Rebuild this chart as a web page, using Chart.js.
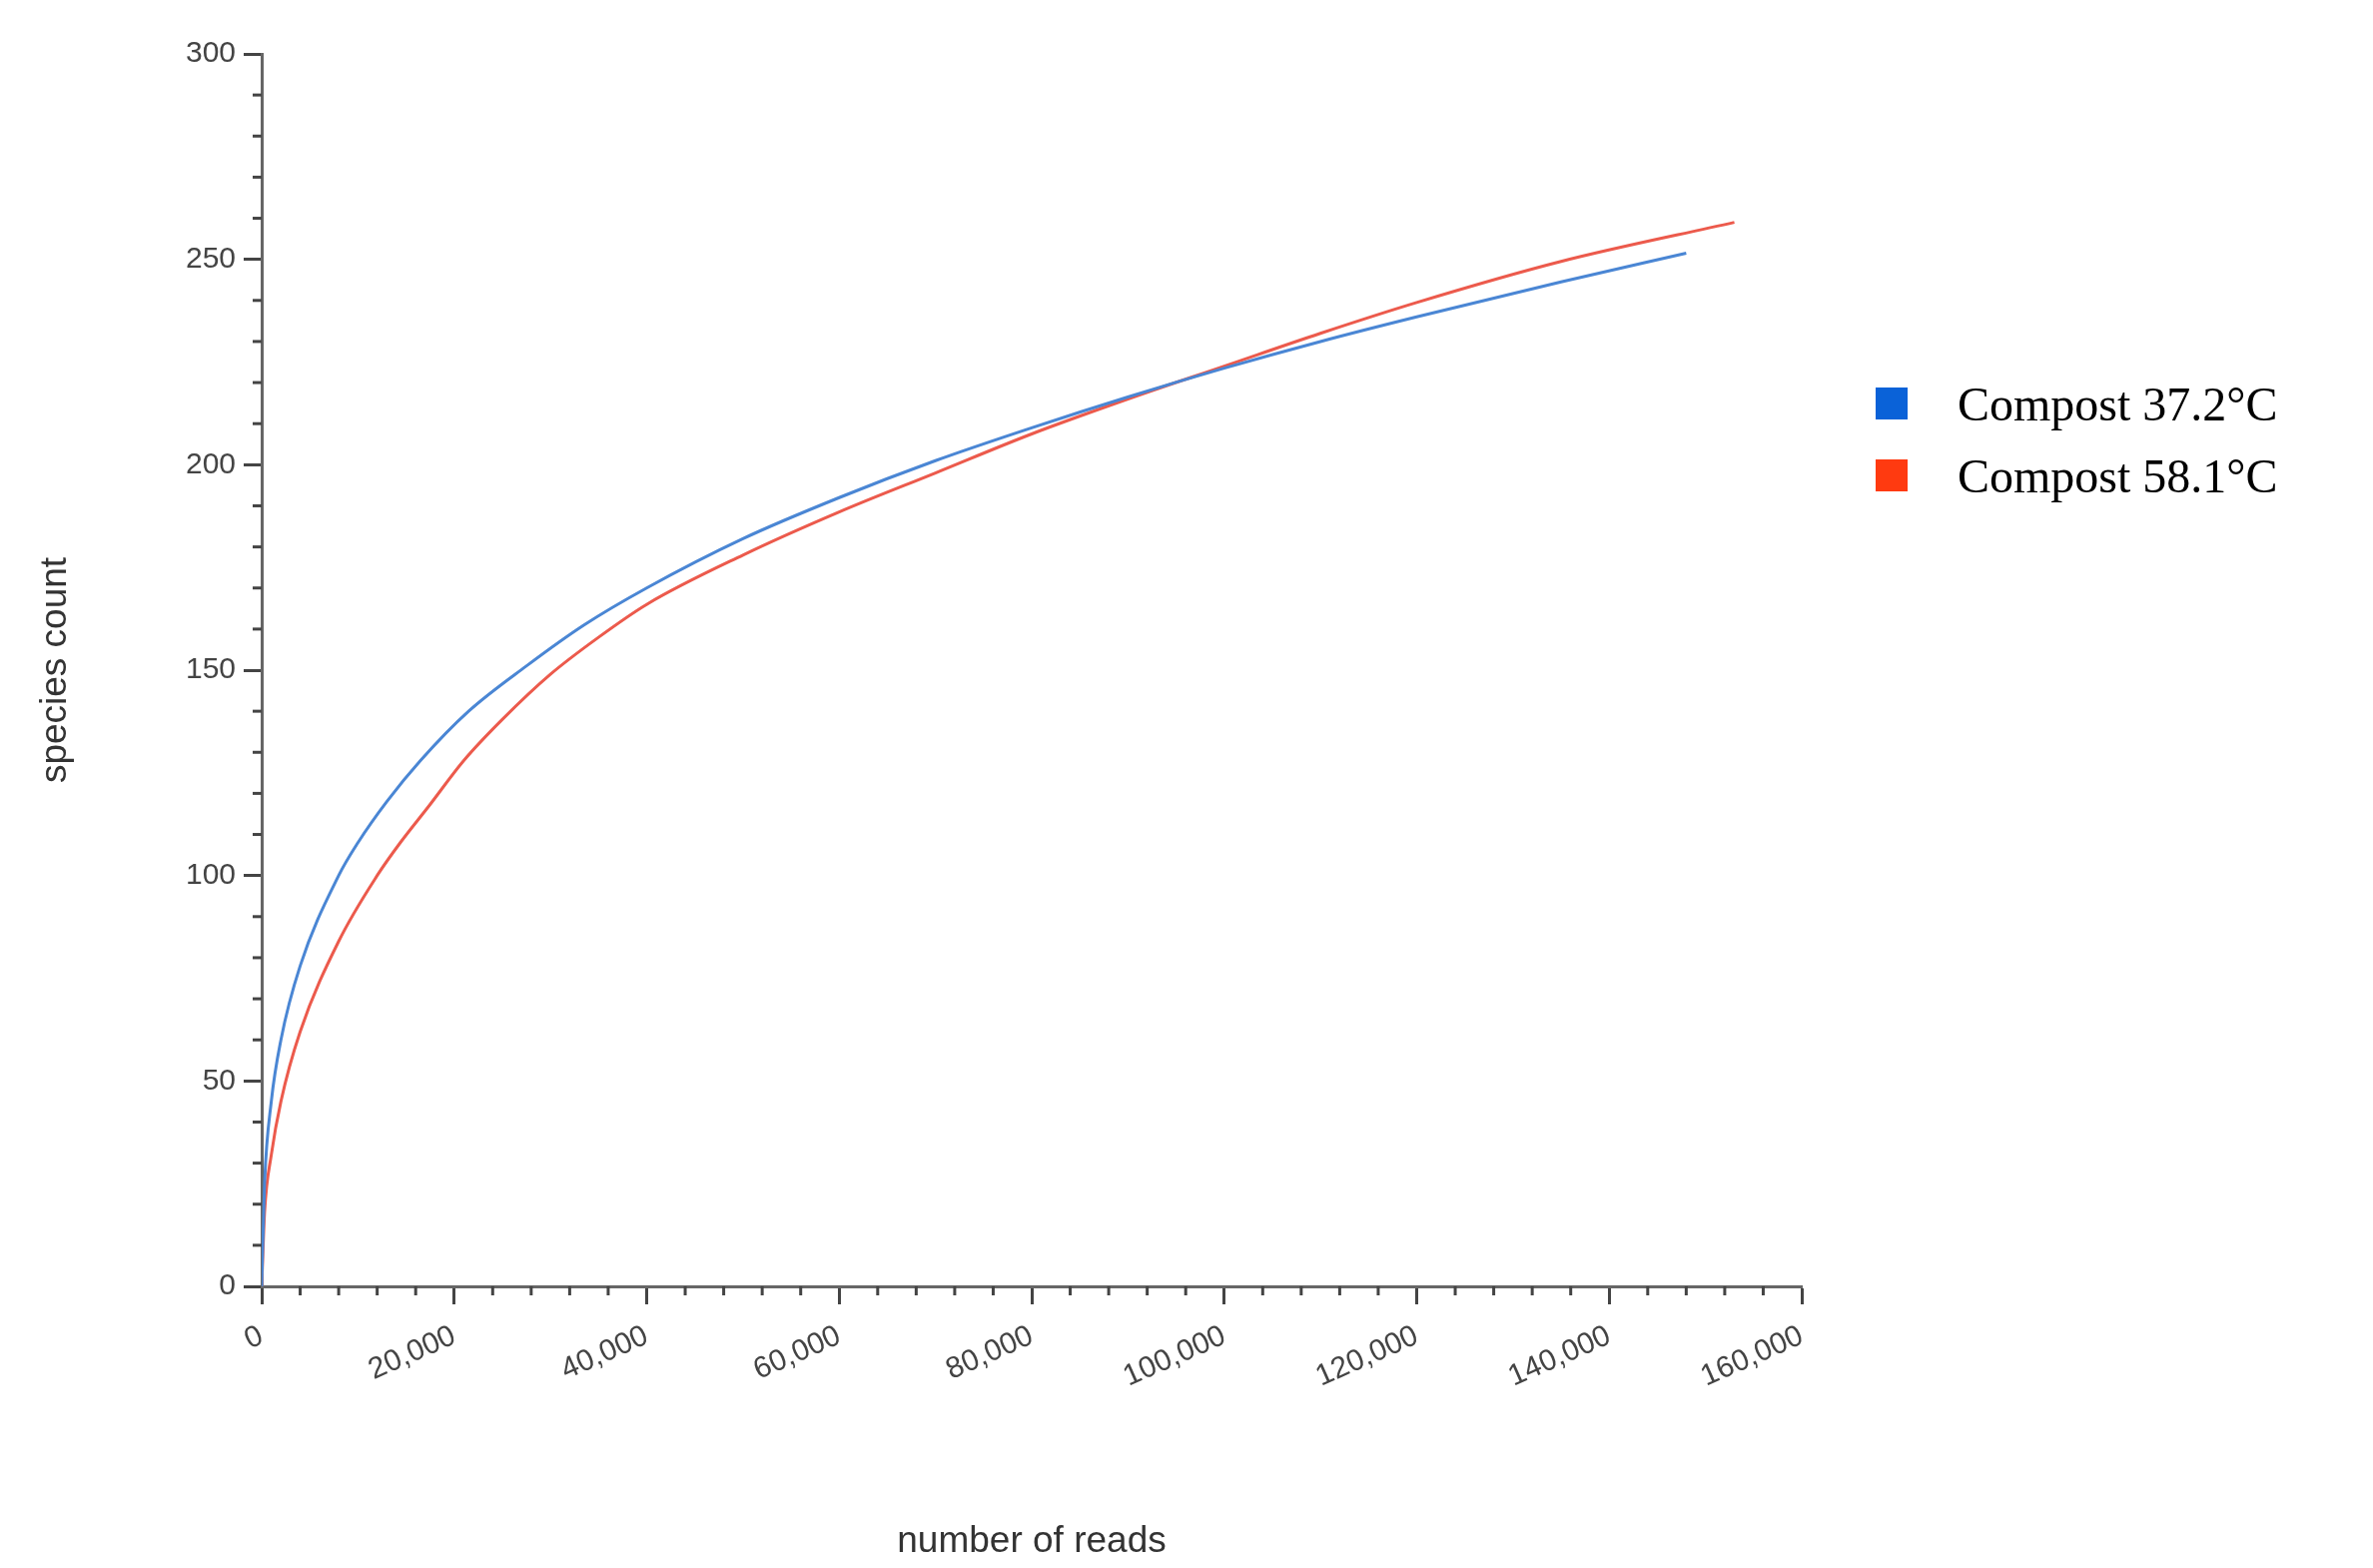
<!DOCTYPE html>
<html><head><meta charset="utf-8">
<script src="https://cdn.jsdelivr.net/npm/chart.js@4"></script>
<style>
html,body{margin:0;padding:0;background:#fff;}
#wrap{position:relative;width:2376px;height:1570px;}
#legend{position:absolute;left:1878px;top:368px;font-family:"Liberation Serif",serif;font-size:48px;color:#000;}
#legend div{display:flex;align-items:center;height:72px;}
#legend span.b{display:inline-block;width:32px;height:32px;margin-right:50px;}
</style></head>
<body><div id="wrap"><canvas id="c" width="2376" height="1570"></canvas>
<div id="legend"><div><span class="b" style="background:#0a62d8"></span>Compost 37.2°C</div><div><span class="b" style="background:#ff3a10"></span>Compost 58.1°C</div></div></div>
<script>
const seriesNames = ["Compost 37.2°C","Compost 58.1°C"];
const readsBlue = [0,300,1000,2000,4000,8000,10000,13000,16500,21500,27500,33500,40000,50000,60000,70000,80000,90000,100000,110000,120000,135000,148000];
const countBlue = [0,25,45,60,78,100,108,118,128,140,151,161,170,182,192,201,209,216.5,223.5,230,236,244.5,251.5];
const readsRed  = [0,300,1000,2000,4000,8000,12000,14400,17400,21000,25000,30000,35000,40000,50000,60000,70000,80000,90000,100000,110000,120000,135000,153000];
const countRed  = [0,18,32,45,62,84,100,108,117,128,138,149,158,166,178,188.5,198,207.5,216,224,232,239.5,249.5,259];
const xMajorTicks = [0,20000,40000,60000,80000,100000,120000,140000,160000];
const yMajorTicks = [0,50,100,150,200,250,300];

const toPts = (xs,ys)=>xs.map((x,i)=>({x:x,y:ys[i]}));
const minorPlugin = {
  id:'minor',
  afterDraw(chart){
    const ctx=chart.ctx, xs=chart.scales.x, ys=chart.scales.y;
    ctx.save(); ctx.strokeStyle='#444'; ctx.lineWidth=3;
    for(let v=0; v<=160000; v+=4000){ if(v%20000===0) continue;
      const px=xs.getPixelForValue(v); ctx.beginPath(); ctx.moveTo(px,xs.top); ctx.lineTo(px,xs.top+9); ctx.stroke(); }
    for(let v=0; v<=300; v+=10){ if(v%50===0) continue;
      const py=ys.getPixelForValue(v); ctx.beginPath(); ctx.moveTo(ys.right,py); ctx.lineTo(ys.right-9,py); ctx.stroke(); }
    ctx.restore();
  }
};
Chart.defaults.font.family = "'Liberation Sans', Arial, sans-serif";
new Chart(document.getElementById('c'),{
  type:'line',
  data:{datasets:[
    {label:seriesNames[0],data:toPts(readsBlue,countBlue),borderColor:'#4a86d4',borderWidth:3,pointRadius:0,cubicInterpolationMode:'monotone'},
    {label:seriesNames[1],data:toPts(readsRed,countRed),borderColor:'#ec5a4c',borderWidth:3,pointRadius:0,cubicInterpolationMode:'monotone'}
  ]},
  options:{
    responsive:false,animation:false,
    layout:{padding:{top:54,right:572,left:30,bottom:0}},
    plugins:{legend:{display:false},tooltip:{enabled:false}},
    scales:{
      x:{type:'linear',min:0,max:160000,
        afterBuildTicks(s){s.ticks=xMajorTicks.map(v=>({value:v}));},
        afterFit(s){s.height=282;},
        border:{color:'#666',width:3},
        grid:{drawOnChartArea:false,tickLength:18,tickColor:'#444',tickWidth:3},
        ticks:{color:'#444',font:{size:30},maxRotation:24,minRotation:24,padding:14,
          callback:v=>v.toLocaleString('en-US')},
        title:{display:true,text:'number of reads',color:'#333',font:{size:37},padding:{top:50}}
      },
      y:{min:0,max:300,
        afterBuildTicks(s){s.ticks=yMajorTicks.map(v=>({value:v}));},
        afterFit(s){s.width=232;},
        border:{color:'#666',width:3},
        grid:{drawOnChartArea:false,tickLength:18,tickColor:'#444',tickWidth:3},
        ticks:{color:'#444',font:{size:30},padding:8},
        title:{display:true,text:'species count',color:'#333',font:{size:37},padding:{bottom:0}}
      }
    }
  },
  plugins:[minorPlugin]
});
</script></body></html>
